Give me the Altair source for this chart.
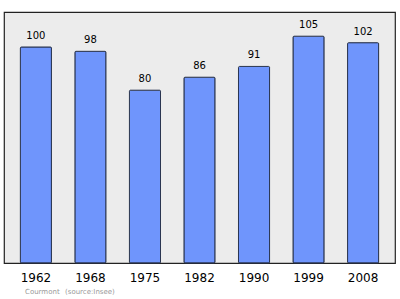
import altair as alt
import pandas as pd

years = ["1962", "1968", "1975", "1982", "1990", "1999", "2008"]
population = [100, 98, 80, 86, 91, 105, 102]

df = pd.DataFrame({"year": years, "pop": population})

x = alt.X("year:N", sort=years,
          scale=alt.Scale(paddingInner=0.43, paddingOuter=0.30),
          axis=alt.Axis(title=None, labelAngle=0, ticks=False, domain=False,
                        labelFontSize=12, labelColor="#000", labelPadding=9,
                        labelFont="DejaVu Sans"))
y = alt.Y("pop:Q", scale=alt.Scale(domain=[0, 116.2], nice=False),
          axis=None)

bars = alt.Chart(df).mark_bar(fill="#6f95fc", stroke="#2a3550",
                              strokeWidth=1, cornerRadius=1).encode(x=x, y=y)
labels = alt.Chart(df).mark_text(baseline="bottom", dy=-6, fontSize=10,
                                 font="DejaVu Sans", color="#000").encode(
    x=x, y=y, text="pop:Q")

src = pd.DataFrame({"t": ["Courmont", "(source:Insee)"], "px": [21, 61]})
source = alt.Chart(src).mark_text(align="left", baseline="middle", fontSize=7,
                                  font="DejaVu Sans", color="#999").encode(
    x=alt.X("px:Q", scale=None), y=alt.value(280), text="t:N")

chart = alt.layer(bars, labels, source).properties(
    width=391, height=251,
    autosize=alt.AutoSizeParams(type="none"),
    padding={"left": 4, "top": 12, "right": 5, "bottom": 36},
    background="white",
).configure_view(fill="#ececec", stroke="#222", strokeWidth=1.2)

chart.save("out.html", embed_options={"renderer": "svg", "actions": False})
